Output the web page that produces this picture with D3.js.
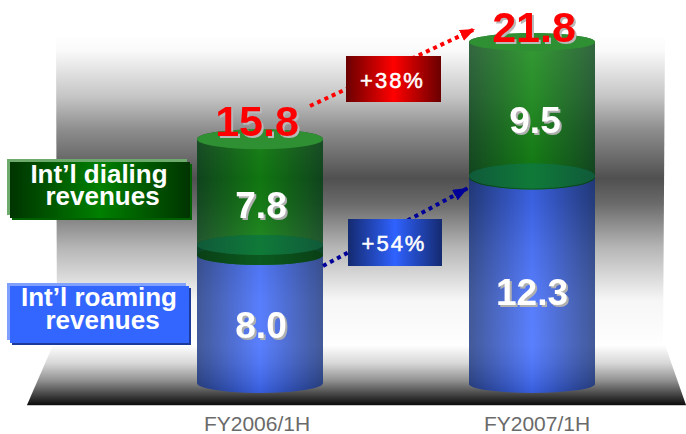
<!DOCTYPE html>
<html>
<head>
<meta charset="utf-8">
<script src="https://cdn.jsdelivr.net/npm/d3@7"></script>
<style>
  html, body { margin: 0; padding: 0; background: #fff; }
  svg { display: block; }
  text { font-family: "Liberation Sans", Arial, sans-serif; }
</style>
</head>
<body>
<svg id="chart" width="686" height="434"></svg>
<script>
const periods = ['FY2006/1H', 'FY2007/1H'];
const roaming = [8.0, 12.3];
const dialing = [7.8, 9.5];
const totals = [15.8, 21.8];
const growthLabels = ['+38%', '+54%'];
const legendLabels = [["Int\u2019l dialing", 'revenues'], ["Int\u2019l roaming", 'revenues']];

const svg = d3.select('#chart');
const defs = svg.append('defs');

function gradient(id, stops, vertical) {
    const g = defs.append('linearGradient').attr('id', id)
        .attr('x1', 0).attr('y1', 0)
        .attr('x2', vertical ? 0 : 1).attr('y2', vertical ? 1 : 0);
    stops.forEach((s) => g.append('stop').attr('offset', s[0]).attr('stop-color', s[1]));
}

gradient('wall', [[0, '#ffffff'], [0.05, '#fafafa'], [0.2, '#c4c4c4'], [0.3, '#8f8f8f'], [0.46, '#505050'], [0.54, '#6a6a6a'], [0.68, '#b5b5b5'], [0.85, '#f6f6f6'], [1, '#ffffff']], true);
gradient('floor', [[0, '#ffffff'], [0.3, '#d8d8d8'], [0.6, '#8f8f8f'], [0.85, '#3c3c3c'], [1, '#0c0c0c']], true);
gradient('blueBody', [[0, '#14307f'], [0.5, '#3160ff'], [1, '#14307f']]);
gradient('greenBody', [[0, '#004010'], [0.5, '#008000'], [1, '#004010']]);
gradient('greenBand', [[0, '#0a3f15'], [0.5, '#0b5a20'], [1, '#0a3f15']]);
gradient('tealTop', [[0, '#105a3a'], [0.5, '#0f7a38'], [1, '#105a3a']]);
gradient('redBox', [[0, '#6a0000'], [0.5, '#ff0000'], [1, '#6a0000']]);
gradient('blueBox', [[0, '#142a70'], [0.5, '#2f62ff'], [1, '#142a70']]);
gradient('greenLabel', [[0, '#003400'], [0.5, '#008000'], [1, '#003400']]);

const arrowColors = ['#ff0000', '#000099'];
arrowColors.forEach((c, i) => {
    defs.append('marker').attr('id', 'arrow' + i)
        .attr('viewBox', '0 0 15 12').attr('refX', 15).attr('refY', 6)
        .attr('markerWidth', 15).attr('markerHeight', 12).attr('markerUnits', 'userSpaceOnUse')
        .attr('orient', 'auto')
        .append('path').attr('d', 'M0,0L15,6L0,12Z').attr('fill', c);
});

// backdrop
svg.append('path').attr('d', 'M56,35L665,35L663,347L57,347Z').attr('fill', 'url(#wall)');
svg.append('path').attr('d', 'M53,345L665,345L686,405L27,405Z').attr('fill', 'url(#floor)');
svg.append('line').attr('x1', 27).attr('x2', 686).attr('y1', 405.5).attr('y2', 405.5).attr('stroke', '#c8c8c8');

// scales
const x = d3.scalePoint().domain(periods).range([260, 532]);
const floorY = [383, 384];
const blueH = d3.scaleLinear().domain([8, 12.3]).range([138, 208]);
const totalY = d3.scaleLinear().domain([0, 21.8]).range([395, 42]);
const halfW = 63;
const ry = [10, 9];
const midRy = [10, 12.5];
const bandGap = [10, 1];

function cylinder(cx, top, bottom, rTop, rBottom) {
    return `M${cx - halfW},${top}V${bottom}A${halfW},${rBottom} 0 0 0 ${cx + halfW},${bottom}V${top}A${halfW},${rTop} 0 0 0 ${cx - halfW},${top}Z`;
}

function shadowText(g, str, px, py, size, fill, shadow) {
    g.append('text').attr('x', px).attr('y', py).attr('text-anchor', 'middle')
        .attr('font-size', size).attr('font-weight', 'bold').attr('fill', fill)
        .style('filter', `drop-shadow(2px 2px 0 ${shadow})`).text(str);
}

const bars = svg.selectAll('g.bar').data(periods).enter().append('g').attr('class', 'bar');

bars.each(function (p, i) {
    const g = d3.select(this);
    const cx = x(p);
    const blueTop = floorY[i] - blueH(roaming[i]);
    const greenBottom = blueTop + bandGap[i];
    const greenTop = totalY(totals[i]);

    g.append('path').attr('d', cylinder(cx, blueTop, floorY[i], midRy[i], ry[i]))
        .attr('fill', 'url(#blueBody)').attr('opacity', 0.8);
    g.append('path').attr('d', cylinder(cx, greenTop, greenBottom, ry[i], midRy[i]))
        .attr('fill', 'url(#greenBody)').attr('opacity', 0.8);
    g.append('ellipse').attr('cx', cx).attr('cy', greenBottom).attr('rx', halfW).attr('ry', midRy[i])
        .attr('fill', 'url(#greenBand)');
    g.append('ellipse').attr('cx', cx).attr('cy', blueTop).attr('rx', halfW).attr('ry', midRy[i])
        .attr('fill', 'url(#tealTop)');
    g.append('ellipse').attr('cx', cx).attr('cy', greenTop).attr('rx', halfW).attr('ry', ry[i])
        .attr('fill', '#2f8f33');
});

// value labels
const greenBase = [218, 133];
const blueBase = [338, 305];
const greenX = [261, 535];
const blueX = [261, 532];
bars.each(function (p, i) {
    const g = d3.select(this);
    shadowText(g, dialing[i].toFixed(1), greenX[i], greenBase[i], 37, '#ffffff', '#b0b0b0');
    shadowText(g, roaming[i].toFixed(1), blueX[i], blueBase[i], 37, '#ffffff', '#b0b0b0');
});

// growth arrows
const arrowPaths = [[[310, 106], [475, 29]], [[323, 266], [468, 188]]];
svg.selectAll('line.growth').data(arrowPaths).enter().append('line').attr('class', 'growth')
    .attr('x1', (d) => d[0][0]).attr('y1', (d) => d[0][1])
    .attr('x2', (d) => d[1][0]).attr('y2', (d) => d[1][1])
    .attr('stroke', (d, i) => arrowColors[i]).attr('stroke-width', 4)
    .attr('stroke-dasharray', '4 4')
    .attr('marker-end', (d, i) => `url(#arrow${i})`);

// growth boxes
const boxes = [{ x: 346, y: 56, w: 95, h: 46, fill: 'url(#redBox)' }, { x: 348, y: 219, w: 94, h: 47, fill: 'url(#blueBox)' }];
boxes.forEach((b, i) => {
    svg.append('rect').attr('x', b.x).attr('y', b.y).attr('width', b.w).attr('height', b.h).attr('fill', b.fill);
    svg.append('text').attr('x', b.x + b.w / 2 - 1).attr('y', b.y + 32).attr('text-anchor', 'middle')
        .attr('font-size', 22).attr('letter-spacing', 2).attr('fill', '#fff')
        .attr('stroke', '#fff').attr('stroke-width', 0.5)
        .text(growthLabels[i]);
});

// totals
const totalX = [257, 534];
const totalBase = [136, 42];
totals.forEach((t, i) => shadowText(svg, t.toFixed(1), totalX[i], totalBase[i], 43, '#ff0000', '#b8b8b8'));

// legend tags
const tags = [
    { x: 10, y: 162, w: 180, h: 56, hi: '#6cab6c', low: '#006000', fill: 'url(#greenLabel)', base: [183, 205] },
    { x: 10, y: 286, w: 179, h: 57, hi: '#7fa0ff', low: '#1c3a9c', fill: '#3366ff', base: [306, 329] }
];
tags.forEach((t, i) => {
    svg.append('rect').attr('x', t.x - 3).attr('y', t.y - 3).attr('width', t.w).attr('height', t.h).attr('fill', t.hi);
    svg.append('rect').attr('x', t.x + 2).attr('y', t.y + 2).attr('width', t.w).attr('height', t.h).attr('fill', t.low);
    svg.append('rect').attr('x', t.x).attr('y', t.y).attr('width', t.w).attr('height', t.h).attr('fill', t.fill);
    legendLabels[i].forEach((line, j) => {
        svg.append('text').attr('x', j ? 102.5 : 99).attr('y', t.base[j]).attr('text-anchor', 'middle')
            .attr('font-size', 26).attr('font-weight', 'bold').attr('fill', '#fff').text(line);
    });
});

// category labels
const axisX = d3.scalePoint().domain(periods).range([257, 537]);
svg.selectAll('text.period').data(periods).enter().append('text').attr('class', 'period')
    .attr('x', (d) => axisX(d)).attr('y', 431).attr('text-anchor', 'middle')
    .attr('font-size', 21).attr('fill', '#6a6a6a').text((d) => d);
</script>
</body>
</html>
